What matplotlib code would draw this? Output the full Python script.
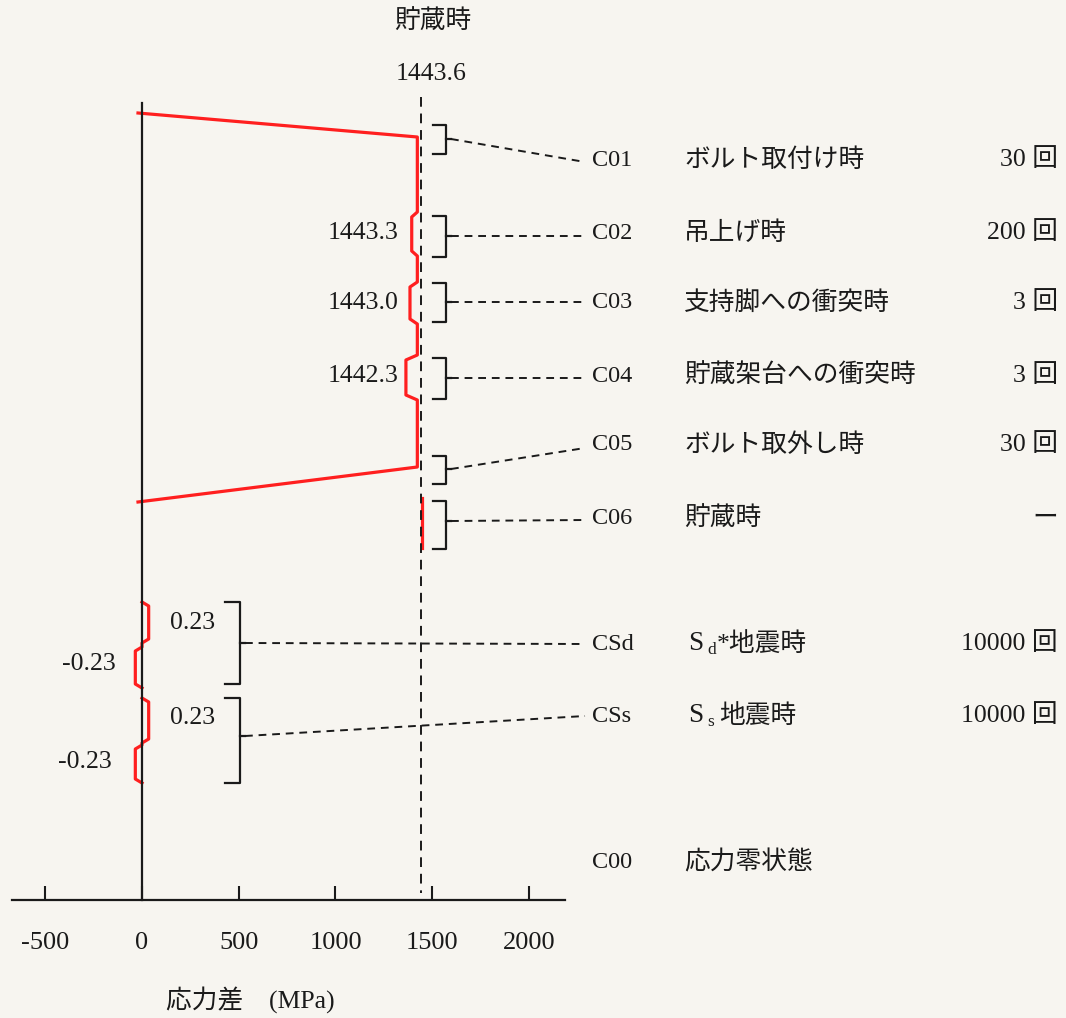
import matplotlib.pyplot as plt
from matplotlib import transforms

plt.rcParams['font.family'] = ['Liberation Serif', 'Noto Sans CJK JP']

# values
storage_stress = 1443.6
dip_values = [1443.3, 1443.0, 1442.3]          # C02, C03, C04
seismic_values = [0.23, 0.23]                   # CSd, CSs (+/-)
case_ids = ['C01', 'C02', 'C03', 'C04', 'C05', 'C06', 'CSd', 'CSs', 'C00']
case_names = ['ボルト取付け時', '吊上げ時', '支持脚への衝突時', '貯蔵架台への衝突時',
              'ボルト取外し時', '貯蔵時', None, None, '応力零状態']
seismic_names = [('d', '*地震時'), ('s', '地震時')]
cycles = ['30 回', '200 回', '3 回', '3 回', '30 回', 'ー', '10000 回', '10000 回', '']
xticks = [-500, 0, 500, 1000, 1500, 2000]
xtick_labels = ['-500', '0', '500', '1000', '1500', '2000']

# layout (pixel rows of the drawing)
row_y = [160, 233, 303, 376, 445, 519, 644, 716, 862]
leader_y = [162, 236, 302, 378, 448, 520, 644, 716]
bracket_spans = [(125, 154, 139), (216, 257, 236), (283, 322, 302), (358, 399, 378),
                 (456, 484, 469), (501, 549, 521), (602, 684, 643), (698, 783, 736)]
dip_spans = [(212, 256), (282, 324), (355, 400)]
seis_spans = [((602, 643), (647, 688)), ((698, 743), (745, 783))]

X0, K = 142, 0.1935


def px(x):
    return (x - X0) / K


fig = plt.figure(figsize=(10.66, 10.18), dpi=100, facecolor='#f7f5f0')
ax = fig.add_axes([0, 0, 1, 1])
ax.set_facecolor('none')
ax.set_xlim(px(0), px(1066))
ax.set_ylim(1018, 0)

red = '#ff1f1f'
black = '#1a1a1a'
fs = 17.5
fn = 18.5
fj = 18.5

# axes
for s in ['top', 'right']:
    ax.spines[s].set_visible(False)
ax.spines['bottom'].set_position(('data', 900))
ax.spines['bottom'].set_bounds(px(12), px(565))
ax.spines['left'].set_position(('data', 0))
ax.spines['left'].set_bounds(103, 900)
for s in ['bottom', 'left']:
    ax.spines[s].set_linewidth(1.6)
    ax.spines[s].set_color(black)
    ax.spines[s].set_zorder(5)
ax.set_yticks([])
ax.set_xticks(xticks)
ax.set_xticklabels(xtick_labels)
ax.tick_params(axis='x', direction='in', length=10, width=1.5, pad=23,
               labelsize=19, colors=black)

# red stress path (schematic dips exaggerated)
def dip(v):
    return storage_stress - (20 + 30 * (storage_stress - v))

xs = [0, storage_stress, storage_stress]
ys = [113, 137, 212]
for v, (t, b) in zip(dip_values, dip_spans):
    d = dip(v)
    xs += [storage_stress, d, d, storage_stress]
    ys += [t, t + 5, b - 5, b]
xs += [storage_stress, 0]
ys += [467, 502]
red_tr = transforms.offset_copy(ax.transData, fig=fig, x=-4, y=0, units='dots')
ax.plot(xs, ys, color=red, lw=2.3, transform=red_tr, zorder=3)
c06_tr = transforms.offset_copy(ax.transData, fig=fig, x=1, y=0, units='dots')
ax.plot([storage_stress, storage_stress], [498, 548], color=red, lw=2.3,
        transform=c06_tr, zorder=3)

for v, (r, l) in zip(seismic_values, seis_spans):
    a = 150 * v
    sx = [0, a, a, 0, 0, -a, -a, 0]
    sy = [r[0], r[0] + 4, r[1] - 4, r[1], l[0], l[0] + 4, l[1] - 4, l[1]]
    ax.plot(sx, sy, color=red, lw=2.3, zorder=3)

# storage stress reference line
ax.plot([storage_stress, storage_stress], [97, 893], color=black, lw=1.4,
        ls=(0, (5, 3.5)), zorder=4)
ax.text(px(433), 22, '貯蔵時', ha='center', va='center', fontsize=fj, color=black)
ax.text(px(431), 74, f'{storage_stress:.1f}', ha='center', va='center', fontsize=fn, color=black)

# brackets and leaders
for i, (t, b, m) in enumerate(bracket_spans):
    xl, xr = (433, 446) if i < 6 else (225, 240)
    ax.plot([px(xl), px(xr), px(xr), px(xl)], [t, t, b, b], color=black, lw=1.6)
    ax.plot([px(xr), px(xr + 5)], [m, m], color=black, lw=1.6)
    ax.plot([px(xr + 5), px(585)], [m, leader_y[i]], color=black, lw=1.4,
            ls=(0, (4, 3)))

# case labels
for i, cid in enumerate(case_ids):
    ax.text(px(592), row_y[i], cid, ha='left', va='center', fontsize=fs, color=black)
    if case_names[i]:
        ax.text(px(684), row_y[i], case_names[i], ha='left', va='center',
                fontsize=fj, color=black)
    if cycles[i]:
        ax.text(px(1058), row_y[i], cycles[i], ha='right', va='center',
                fontsize=fj, color=black)
for (sub, rest), y, xr in zip(seismic_names, row_y[6:8], [717, 719]):
    ax.text(px(688), y, 'S', ha='left', va='center', fontsize=19.5, color=black)
    ax.text(px(707), y + 6, sub, ha='left', va='center', fontsize=12.5, color=black)
    ax.text(px(xr), y, rest, ha='left', va='center', fontsize=fj, color=black)

# value annotations
for v, y in zip(dip_values, row_y[1:4]):
    ax.text(px(399), y, f'{v:.1f}', ha='right', va='center', fontsize=fn, color=black)
for v, yp, yn, xn in zip(seismic_values, [623, 718], [664, 762], [116, 112]):
    ax.text(px(170), yp, f'{v:.2f}', ha='left', va='center', fontsize=fn, color=black)
    ax.text(px(xn), yn, f'-{v:.2f}', ha='right', va='center', fontsize=fn, color=black)

ax.text(px(166), 1000, '応力差　(MPa)', ha='left', va='center', fontsize=18.5, color=black)

fig.savefig('out.png', dpi=100, facecolor=fig.get_facecolor())
